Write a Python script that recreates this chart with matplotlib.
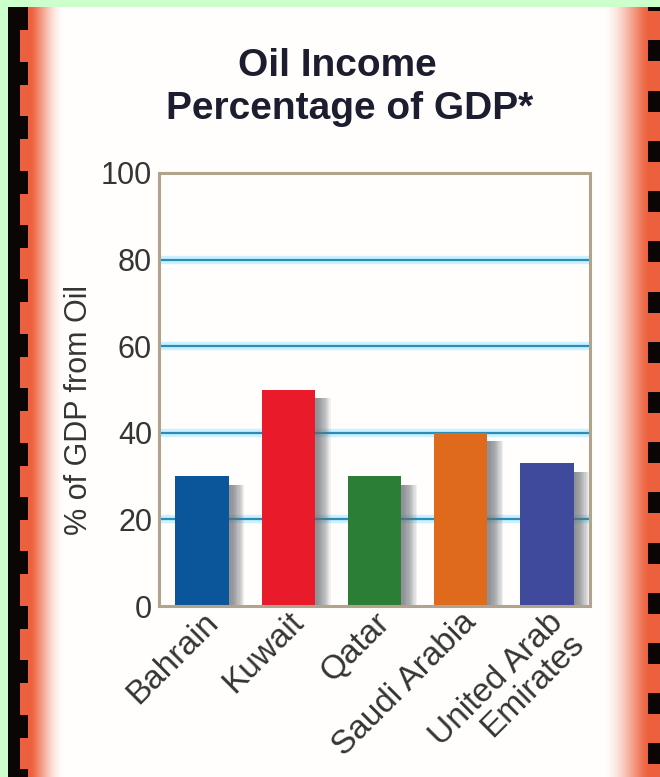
import matplotlib
matplotlib.use("Agg")
import matplotlib.pyplot as plt
import matplotlib.transforms as mtransforms
import numpy as np

plt.rcParams['font.family'] = ['Liberation Sans', 'DejaVu Sans']

# ---- data ----
countries = ["Bahrain", "Kuwait", "Qatar", "Saudi Arabia", "United Arab\nEmirates"]
oil_pct = [30, 50, 30, 40, 33]
bar_colors = ["#0b559b", "#e91b2b", "#2a7e36", "#e06a1c", "#3f4a9d"]
y_ticks = [0, 20, 40, 60, 80, 100]

W, H = 660, 777
fig = plt.figure(figsize=(W / 100, H / 100), dpi=100)

# ---- background: green border, film strips with orange glow ----
xs = np.arange(W)[None, :]
bg = np.ones((1, W, 3))
bg[:] = np.array([1.0, 0.998, 0.99])
orange = np.array([0.93, 0.38, 0.24])

def smooth(t):
    t = np.clip(t, 0, 1)
    return t * t * (3 - 2 * t)

left_w = smooth((xs - 30) / 34.0) ** 0.7     # 0 = orange, 1 = white
right_w = smooth((648 - xs) / 46.0) ** 0.7
mix = np.minimum(left_w, right_w)[..., None]
bg = bg * mix + orange * (1 - mix)
bg = np.broadcast_to(bg, (H, W, 3)).copy()

black = np.array([0.05, 0.02, 0.02])
bg[:, 8:20] = black
left_notch = ((np.arange(H) - 7) % 54.4) < 23
bg[left_notch, 20:28] = black
right_notch = ((np.arange(H) - 40) % 50.2) < 21
bg[right_notch, 648:] = black
green = np.array([0.80, 1.0, 0.80])
bg[:7, :] = green
bg[:, :8] = green

ax_bg = fig.add_axes([0, 0, 1, 1])
ax_bg.imshow(bg, aspect="auto", extent=(0, W, H, 0), interpolation="bilinear")
ax_bg.set_xlim(0, W)
ax_bg.set_ylim(H, 0)
ax_bg.axis("off")

# ---- title ----
fig.text(337 / W, 1 - 66 / H, "Oil Income", ha="center", va="center",
         fontsize=28, fontweight="bold", color="#1d1d30")
fig.text(350 / W, 1 - 109 / H, "Percentage of GDP*", ha="center", va="center",
         fontsize=28, fontweight="bold", color="#1d1d30")

# ---- chart ----
ax = fig.add_axes([159 / W, 1 - 606 / H, (590 - 159) / W, (606 - 173) / H])
ax.set_facecolor("none")
x = np.arange(len(countries))
width = 0.62

# gridlines with soft glow
for yv in y_ticks[1:-1]:
    ax.axhline(yv, color="#c9f1ff", lw=6, zorder=0)
    ax.axhline(yv, color="#2c8cb6", lw=1.6, zorder=0.5)

# drop shadows
vals = np.array(oil_pct, dtype=float)
for dx in np.linspace(0.03, 0.18, 12):
    ax.bar(x + dx, vals - 2.0, width=width, color="#6a6e74", alpha=0.1,
           linewidth=0, zorder=1)

ax.bar(x, vals, width=width, color=bar_colors, linewidth=0, zorder=2)

ax.set_xlim(-0.5, len(countries) - 0.5)
ax.set_ylim(0, 100)
ax.set_yticks(y_ticks)
ax.tick_params(axis="y", length=0, pad=5, labelsize=22, labelcolor="#353535")
ax.tick_params(axis="x", length=0, pad=2)
ax.set_xticks(x)
ax.set_xticklabels(countries, rotation=45, ha="right", va="top",
                   rotation_mode="anchor", fontsize=24, color="#353535",
                   multialignment="right", linespacing=0.95)
offset = mtransforms.ScaledTranslation(0, 0.02, fig.dpi_scale_trans)
for lab in ax.get_xticklabels():
    lab.set_transform(lab.get_transform() + offset)

ax.set_ylabel("% of GDP from Oil", fontsize=22, color="#353535")
ax.yaxis.set_label_coords(-0.15, 0.453)

for s in ax.spines.values():
    s.set_color("#b2a38e")
    s.set_linewidth(2.2)
    s.set_zorder(3)

fig.savefig("out.png", dpi=100)
